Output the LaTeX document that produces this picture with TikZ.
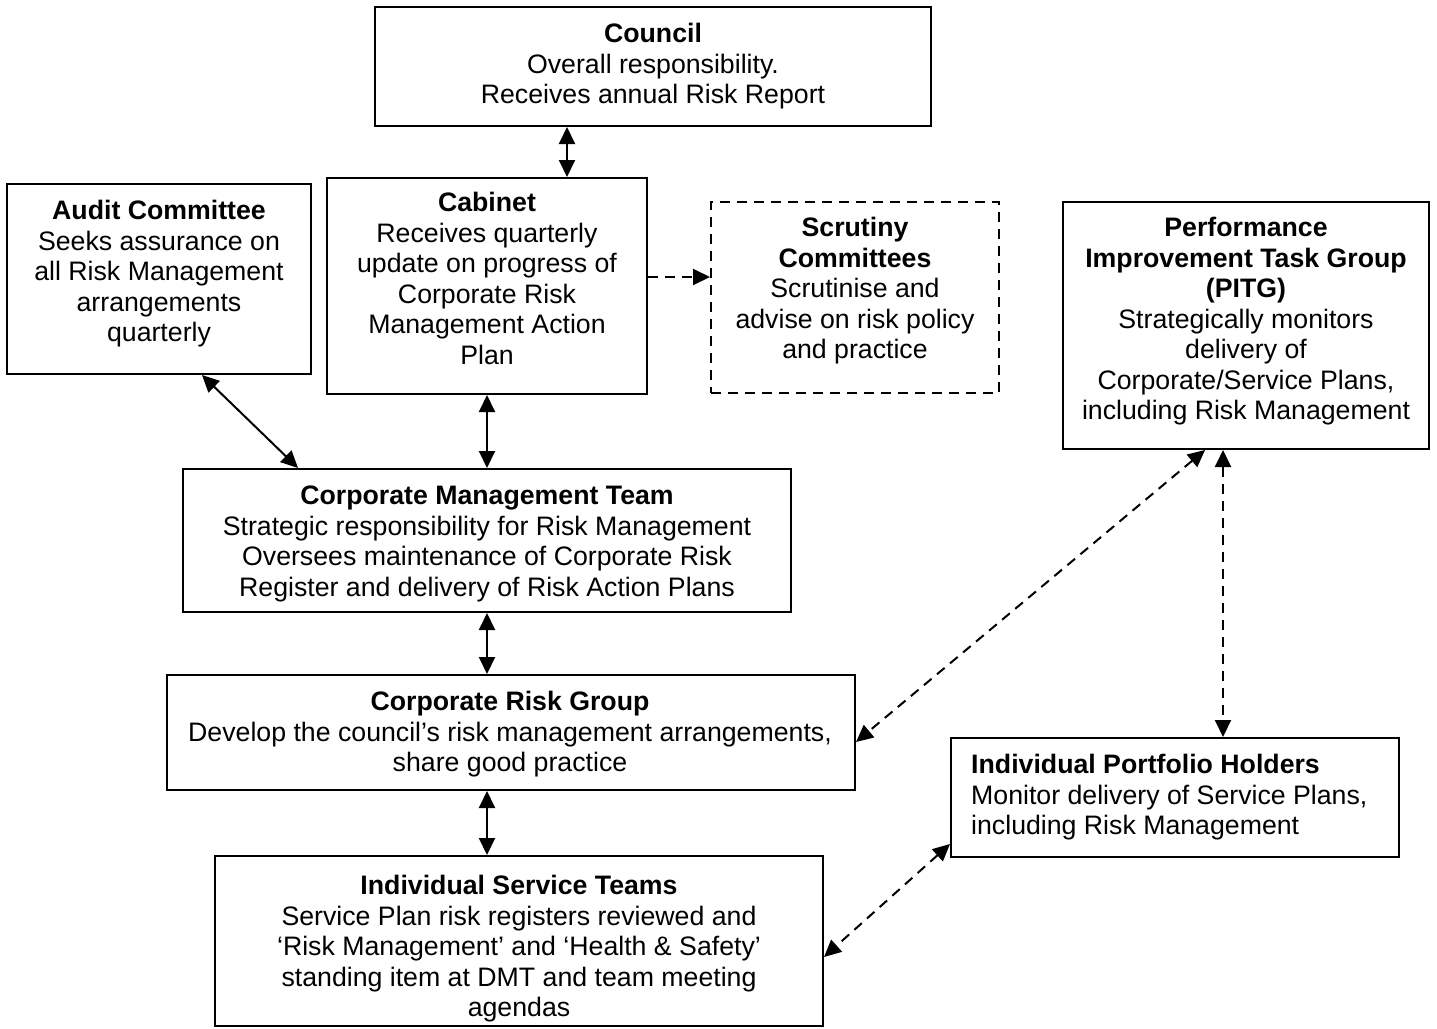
\documentclass[tikz,border=0pt]{standalone}
\usepackage{fontspec}
\setmainfont{Liberation Sans}
\usetikzlibrary{arrows.meta}
\begin{document}
\begin{tikzpicture}[x=1pt,y=-1pt,
  box/.style={draw, line width=2pt, inner sep=0pt},
  dbox/.style={box, dash pattern=on 10pt off 7pt},
  txt/.style={anchor=north, inner sep=0pt, align=center, font=\fontsize{26.7}{30.5}\selectfont},
  arr/.style={line width=2pt, {Triangle[length=17pt,width=16pt]}-{Triangle[length=17pt,width=16pt]}},
  darr/.style={arr, dash pattern=on 10pt off 7pt},
  sarr/.style={line width=2pt, dash pattern=on 10pt off 7pt, -{Triangle[length=17pt,width=16pt]}}]
\useasboundingbox (0,0) rectangle (1437,1028);
% boxes
\node[box, minimum width=556pt, minimum height=119pt] (council) at (653,66.5) {};
\node[box, minimum width=320pt, minimum height=216pt] (cabinet) at (487,286) {};
\node[box, minimum width=304pt, minimum height=190pt] (audit) at (159,279) {};
\node[dbox, minimum width=288pt, minimum height=191pt] (scrutiny) at (855,297.5) {};
\node[box, minimum width=366pt, minimum height=247pt] (pitg) at (1246,325.5) {};
\node[box, minimum width=608pt, minimum height=143pt] (cmt) at (487,540.5) {};
\node[box, minimum width=688pt, minimum height=115pt] (crg) at (511,732.5) {};
\node[box, minimum width=448pt, minimum height=119pt] (iph) at (1175,797.5) {};
\node[box, minimum width=608pt, minimum height=170pt] (ist) at (519,941) {};
% texts
\node[txt] (tcouncil) at (653,21) {\strut\textbf{Council}\\Overall responsibility.\\Receives annual Risk Report};
\node[txt] (tcabinet) at (487,190) {\strut\textbf{Cabinet}\\Receives quarterly\\update on progress of\\Corporate Risk\\Management Action\\Plan};
\node[txt] (taudit) at (159,198) {\strut\textbf{Audit Committee}\\Seeks assurance on\\all Risk Management\\arrangements\\quarterly};
\node[txt] (tscrutiny) at (855,215) {\strut\textbf{Scrutiny}\\\textbf{Committees}\\Scrutinise and\\advise on risk policy\\and practice};
\node[txt] (tpitg) at (1246,215) {\strut\textbf{Performance}\\\textbf{Improvement Task Group}\\\textbf{(PITG)}\\Strategically monitors\\delivery of\\Corporate/Service Plans,\\including Risk Management};
\node[txt] (tcmt) at (487,483) {\strut\textbf{Corporate Management Team}\\Strategic responsibility for Risk Management\\Oversees maintenance of Corporate Risk\\Register and delivery of Risk Action Plans};
\node[txt] (tcrg) at (510,689) {\strut\textbf{Corporate Risk Group}\\Develop the council’s risk management arrangements,\\share good practice};
\node[txt, anchor=north west, align=left] (tiph) at (971,752) {\strut\textbf{Individual Portfolio Holders}\\Monitor delivery of Service Plans,\\including Risk Management};
\node[txt] (tist) at (519,873) {\strut\textbf{Individual Service Teams}\\Service Plan risk registers reviewed and\\‘Risk Management’ and ‘Health \& Safety’\\standing item at DMT and team meeting\\agendas};
% helper coordinates
\coordinate (c1) at (567,0);
\coordinate (a1) at (202,0);
\coordinate (a2) at (298,0);
\coordinate (m1) at (487,0);
\coordinate (s1) at (0,277);
\coordinate (p1) at (1205,0);
\coordinate (p2) at (0,742);
\coordinate (p3) at (1223,0);
\coordinate (q1) at (0,844);
\coordinate (q2) at (0,957);
% connectors
\draw[arr] (council.south -| c1) -- (cabinet.north -| c1);
\draw[arr] (audit.south -| a1) -- (cmt.north -| a2);
\draw[arr] (cabinet.south -| m1) -- (cmt.north -| m1);
\draw[arr] (cmt.south -| m1) -- (crg.north -| m1);
\draw[arr] (crg.south -| m1) -- (ist.north -| m1);
\draw[sarr] (cabinet.east |- s1) -- (scrutiny.west |- s1);
\draw[darr] (pitg.south -| p1) -- (crg.east |- p2);
\draw[darr] (pitg.south -| p3) -- (iph.north -| p3);
\draw[darr] (iph.west |- q1) -- (ist.east |- q2);
\end{tikzpicture}
\end{document}
